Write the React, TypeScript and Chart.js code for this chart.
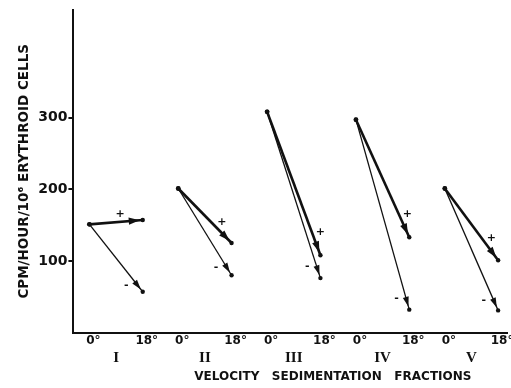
import React, { useEffect, useRef } from "react";
import { Chart, registerables } from "chart.js";

Chart.register(...registerables);

// ---- data ----
const fractions = ["I", "II", "III", "IV", "V"];
const temperatures = ["0°", "18°"];
const cpmAt0 = [151, 201, 308, 297, 201];
const cpmPlusAt18 = [157, 125, 108, 133, 101];
const cpmMinusAt18 = [57, 80, 76, 32, 31];
const yTicks = [100, 200, 300];
const yTitle = "CPM/HOUR/10⁶ ERYTHROID CELLS";
const xTitle = "VELOCITY   SEDIMENTATION   FRACTIONS";

// layout constants (x units: group g spans g*GROUP .. g*GROUP+SPAN)
const GROUP = 5;
const SPAN = 3;
const X_MIN = -0.9;
const X_MAX = 23.5;
const INK = "#111111";

export default function App() {
  const ref = useRef<HTMLCanvasElement | null>(null);

  useEffect(() => {
    document.body.style.margin = "0";
    const canvas = ref.current;
    if (!canvas) return;

    const datasets: any[] = [];
    fractions.forEach((f, g) => {
      datasets.push({
        label: f + " +",
        sign: "+",
        data: [
          { x: g * GROUP, y: cpmAt0[g] },
          { x: g * GROUP + SPAN, y: cpmPlusAt18[g] },
        ],
        borderColor: INK,
        backgroundColor: INK,
        borderWidth: 2.6,
        pointRadius: [2.4, 2.2],
        pointBorderWidth: 0,
        xAxisID: "x",
        yAxisID: "y",
      });
      datasets.push({
        label: f + " -",
        sign: "-",
        data: [
          { x: g * GROUP, y: cpmAt0[g] },
          { x: g * GROUP + SPAN, y: cpmMinusAt18[g] },
        ],
        borderColor: INK,
        backgroundColor: INK,
        borderWidth: 1.3,
        pointRadius: [2.2, 2.2],
        pointBorderWidth: 0,
        xAxisID: "x",
        yAxisID: "y",
      });
    });

    const tempTicks: number[] = [];
    const tempLabels: Record<string, string> = {};
    fractions.forEach((_, g) => {
      tempTicks.push(g * GROUP, g * GROUP + SPAN);
      tempLabels[String(g * GROUP)] = temperatures[0];
      tempLabels[String(g * GROUP + SPAN)] = temperatures[1];
    });
    const fracTicks = fractions.map((_, g) => g * GROUP + SPAN / 2);

    const arrowPlugin = {
      id: "arrows",
      afterDatasetsDraw(chart: any) {
        const ctx = chart.ctx;
        ctx.save();
        chart.data.datasets.forEach((ds: any, i: number) => {
          const meta = chart.getDatasetMeta(i);
          const p0 = meta.data[0];
          const p1 = meta.data[1];
          const dx = p1.x - p0.x;
          const dy = p1.y - p0.y;
          const len = Math.hypot(dx, dy);
          const ux = dx / len;
          const uy = dy / len;
          const plus = ds.sign === "+";
          const tipBack = 3;
          const headLen = plus ? 11 : 10;
          const half = plus ? 3.6 : 3.0;
          const tx = p1.x - ux * tipBack;
          const ty = p1.y - uy * tipBack;
          const bx = tx - ux * headLen;
          const by = ty - uy * headLen;
          ctx.fillStyle = INK;
          ctx.beginPath();
          ctx.moveTo(tx, ty);
          ctx.lineTo(bx - uy * half, by + ux * half);
          ctx.lineTo(bx + uy * half, by - ux * half);
          ctx.closePath();
          ctx.fill();

          // sign label
          ctx.font = "bold 11px 'DejaVu Sans'";
          ctx.textAlign = "center";
          ctx.textBaseline = "middle";
          if (plus) {
            const back = 22;
            const off = 8;
            const lx = p1.x - ux * back + uy * off;
            const ly = p1.y - uy * back - ux * off;
            ctx.fillText("+", lx, ly);
          } else {
            const back = 15;
            const off = 9;
            const lx = p1.x - ux * back - uy * off;
            const ly = p1.y - uy * back + ux * off;
            ctx.fillText("-", lx, ly);
          }
        });
        ctx.restore();
      },
      afterDraw(chart: any) {
        const ctx = chart.ctx;
        const xs = chart.scales.x;
        ctx.save();
        ctx.fillStyle = INK;
        ctx.font = "bold 12px 'DejaVu Sans'";
        ctx.textAlign = "center";
        ctx.textBaseline = "middle";
        ctx.fillText(xTitle, xs.getPixelForValue(13.7), 377);
        ctx.restore();
      },
    };

    const noSidePad = (scale: any) => {
      scale.paddingLeft = 0;
      scale.paddingRight = 0;
    };

    const chart = new Chart(canvas, {
      type: "line",
      data: { datasets },
      options: {
        animation: false,
        responsive: false,
        maintainAspectRatio: false,
        layout: { padding: { top: 10, right: 1, bottom: 21, left: 16 } },
        plugins: {
          legend: { display: false },
          tooltip: { enabled: false },
        },
        scales: {
          x: {
            type: "linear",
            position: "bottom",
            min: X_MIN,
            max: X_MAX,
            grid: { display: false, drawTicks: false },
            border: { display: true, color: INK, width: 2 },
            afterBuildTicks: (axis: any) => {
              axis.ticks = tempTicks.map((v) => ({ value: v }));
            },
            afterFit: noSidePad,
            ticks: {
              autoSkip: false,
              maxRotation: 0,
              color: INK,
              padding: 1,
              labelOffset: 4,
              font: { family: "'DejaVu Sans'", weight: "bold", size: 12 },
              callback: (v: any) => tempLabels[String(v)] ?? "",
            },
          },
          x2: {
            type: "linear",
            position: "bottom",
            min: X_MIN,
            max: X_MAX,
            grid: { display: false, drawTicks: false },
            border: { display: false },
            afterBuildTicks: (axis: any) => {
              axis.ticks = fracTicks.map((v) => ({ value: v }));
            },
            afterFit: noSidePad,
            ticks: {
              autoSkip: false,
              maxRotation: 0,
              color: INK,
              padding: 0,
              font: { family: "'Liberation Serif'", weight: "bold", size: 15 },
              callback: (v: any) => {
                const idx = fracTicks.indexOf(Number(v));
                return idx >= 0 ? fractions[idx] : "";
              },
            },
          },
          y: {
            type: "linear",
            min: 0,
            max: 450,
            grid: {
              drawOnChartArea: false,
              drawTicks: true,
              tickLength: 5,
              color: INK,
              lineWidth: 2,
            },
            border: { display: true, color: INK, width: 2 },
            afterBuildTicks: (axis: any) => {
              axis.ticks = yTicks.map((v) => ({ value: v }));
            },
            ticks: {
              color: INK,
              padding: 1,
              font: { family: "'DejaVu Sans'", weight: "bold", size: 14 },
            },
            title: {
              display: true,
              text: yTitle,
              color: INK,
              font: { family: "'DejaVu Sans'", weight: "bold", size: 13.5 },
              padding: { top: 0, bottom: 5 },
            },
          },
        },
      },
      plugins: [arrowPlugin],
    } as any);

    return () => chart.destroy();
  }, []);

  return (
    <div style={{ width: 511, height: 388, background: "#fff" }}>
      <canvas ref={ref} width={511} height={388} />
    </div>
  );
}
